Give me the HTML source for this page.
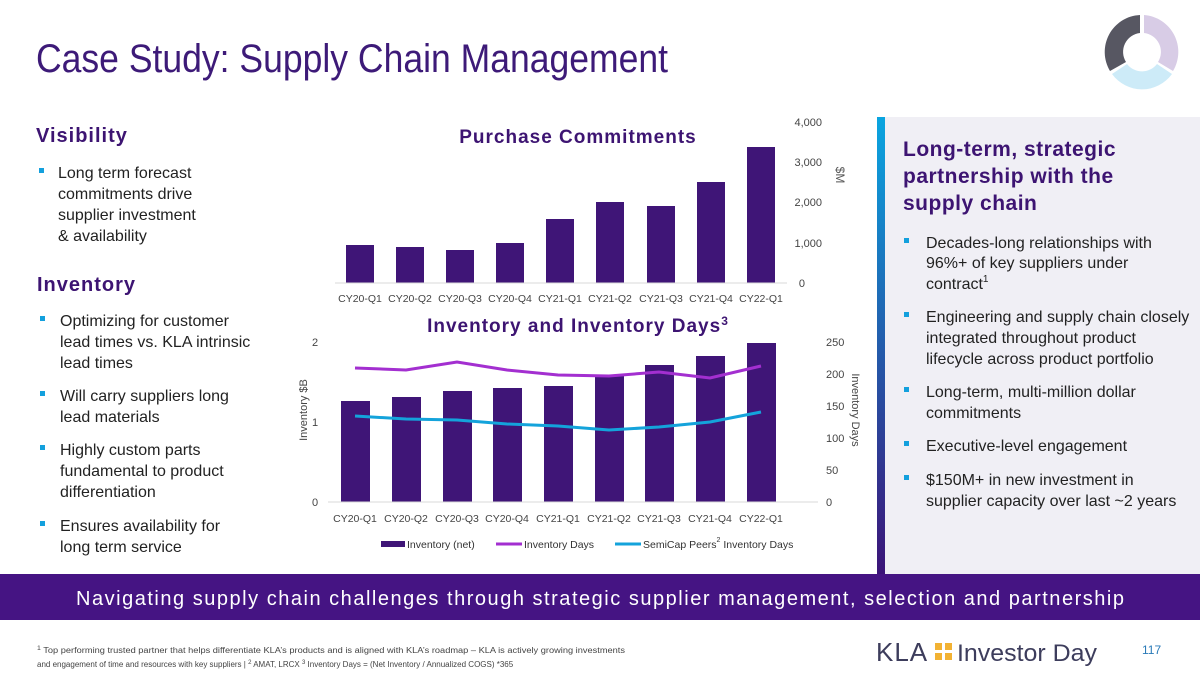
<!DOCTYPE html>
<html><head><meta charset="utf-8"><style>
body{margin:0;width:1200px;height:675px;overflow:hidden;background:#fff}
svg{display:block;font-family:"Liberation Sans",sans-serif}
</style></head><body>
<svg width="1200" height="675" viewBox="0 0 1200 675">
<defs><linearGradient id="g" x1="0" y1="0" x2="0" y2="1"><stop offset="0" stop-color="#0aa5e0"/><stop offset="1" stop-color="#3c1478"/></linearGradient></defs>
<text x="36" y="72" font-size="40" fill="#3d1a78" textLength="632" lengthAdjust="spacingAndGlyphs">Case Study: Supply Chain Management</text>
<g transform="translate(1142,52)">
<path d="M2,-37 A37,37 0 0 1 31,19 L16,10 A19,19 0 0 0 2,-19Z" fill="#d8cce6"/>
<path d="M30,22 A37,37 0 0 1 -30,22 L-15,12 A19,19 0 0 0 15,12Z" fill="#cdebf8"/>
<path d="M-32,19 A37,37 0 0 1 -2,-37 L-2,-19 A19,19 0 0 0 -16,10Z" fill="#575762"/>
</g>
<rect x="877" y="117" width="323" height="457" fill="#f0eff5"/>
<rect x="877" y="117" width="8" height="457" fill="url(#g)"/>
<g font-weight="bold" font-size="21" fill="#3d1472" letter-spacing="0.5">
<text x="903" y="156">Long-term, strategic</text><text x="903" y="183">partnership with the</text><text x="903" y="210">supply chain</text></g>
<g font-size="16" fill="#222">
<text x="926" y="248">Decades-long relationships with</text><text x="926" y="268">96%+ of key suppliers under</text><text x="926" y="289">contract<tspan font-size="10" dy="-7">1</tspan></text>
<text x="926" y="322">Engineering and supply chain closely</text><text x="926" y="343">integrated throughout product</text><text x="926" y="364">lifecycle across product portfolio</text>
<text x="926" y="397">Long-term, multi-million dollar</text><text x="926" y="418">commitments</text>
<text x="926" y="451">Executive-level engagement</text>
<text x="926" y="485">$150M+ in new investment in</text><text x="926" y="506">supplier capacity over last ~2 years</text>
</g>
<g fill="#13a0dd"><rect x="904" y="238" width="5" height="5"/><rect x="904" y="312" width="5" height="5"/><rect x="904" y="387" width="5" height="5"/><rect x="904" y="441" width="5" height="5"/><rect x="904" y="475" width="5" height="5"/>
<rect x="39" y="168" width="5" height="5"/><rect x="40" y="316" width="5" height="5"/><rect x="40" y="391" width="5" height="5"/><rect x="40" y="445" width="5" height="5"/><rect x="40" y="521" width="5" height="5"/></g>
<g font-weight="bold" font-size="20" fill="#3d1472" letter-spacing="1"><text x="36" y="142">Visibility</text><text x="37" y="291">Inventory</text></g>
<g font-size="16" fill="#222">
<text x="58" y="178">Long term forecast</text><text x="58" y="199">commitments drive</text><text x="58" y="220">supplier investment</text><text x="58" y="241">&amp; availability</text>
<text x="60" y="326">Optimizing for customer</text><text x="60" y="347">lead times vs. KLA intrinsic</text><text x="60" y="368">lead times</text>
<text x="60" y="401">Will carry suppliers long</text><text x="60" y="422">lead materials</text>
<text x="60" y="455">Highly custom parts</text><text x="60" y="476">fundamental to product</text><text x="60" y="497">differentiation</text>
<text x="60" y="531">Ensures availability for</text><text x="60" y="552">long term service</text></g>
<text x="578" y="143" text-anchor="middle" font-weight="bold" font-size="19" fill="#3d1472" letter-spacing="1">Purchase Commitments</text>
<g fill="#3f1577">
<rect x="346" y="245" width="28" height="38"/><rect x="396" y="247" width="28" height="36"/><rect x="446" y="250" width="28" height="33"/><rect x="496" y="243" width="28" height="40"/><rect x="546" y="219" width="28" height="64"/><rect x="596" y="202" width="28" height="81"/><rect x="647" y="206" width="28" height="77"/><rect x="697" y="182" width="28" height="101"/><rect x="747" y="147" width="28" height="136"/></g>
<line x1="335" y1="283" x2="787" y2="283" stroke="#d9d9d9"/>
<g font-size="11" fill="#444" text-anchor="end"><text x="822" y="126">4,000</text><text x="822" y="166">3,000</text><text x="822" y="206">2,000</text><text x="822" y="247">1,000</text><text x="805" y="287">0</text></g>
<text transform="translate(836,175) rotate(90)" font-size="12" fill="#555" text-anchor="middle">$M</text>
<g font-size="10.5" fill="#444" text-anchor="middle"><text x="360" y="302">CY20-Q1</text><text x="410" y="302">CY20-Q2</text><text x="460" y="302">CY20-Q3</text><text x="510" y="302">CY20-Q4</text><text x="560" y="302">CY21-Q1</text><text x="610" y="302">CY21-Q2</text><text x="661" y="302">CY21-Q3</text><text x="711" y="302">CY21-Q4</text><text x="761" y="302">CY22-Q1</text></g>
<text x="578" y="332" text-anchor="middle" font-weight="bold" font-size="19" fill="#3d1472" letter-spacing="1">Inventory and Inventory Days<tspan font-size="12" dy="-7">3</tspan></text>
<g fill="#3f1577">
<rect x="341" y="401" width="29" height="101"/><rect x="392" y="397" width="29" height="105"/><rect x="443" y="391" width="29" height="111"/><rect x="493" y="388" width="29" height="114"/><rect x="544" y="386" width="29" height="116"/><rect x="595" y="376" width="29" height="126"/><rect x="645" y="365" width="29" height="137"/><rect x="696" y="356" width="29" height="146"/><rect x="747" y="343" width="29" height="159"/></g>
<line x1="328" y1="502" x2="818" y2="502" stroke="#d9d9d9"/>
<polyline fill="none" stroke="#a32fd0" stroke-width="3" points="355,368 406,370 457,362 507,370 558,375 609,376 659,372 710,378 761,366"/>
<polyline fill="none" stroke="#14a3db" stroke-width="3" points="355,416 406,419 457,420 507,424 558,426 609,430 659,427 710,422 761,412"/>
<g font-size="11" fill="#444"><text x="312" y="346">2</text><text x="312" y="426">1</text><text x="312" y="506">0</text>
<text x="826" y="346">250</text><text x="826" y="378">200</text><text x="826" y="410">150</text><text x="826" y="442">100</text><text x="826" y="474">50</text><text x="826" y="506">0</text></g>
<text transform="translate(307,410) rotate(-90)" font-size="11" fill="#444" text-anchor="middle">Inventory $B</text>
<text transform="translate(852,410) rotate(90)" font-size="11" fill="#444" text-anchor="middle">Inventory Days</text>
<g font-size="10.5" fill="#444" text-anchor="middle"><text x="355" y="522">CY20-Q1</text><text x="406" y="522">CY20-Q2</text><text x="457" y="522">CY20-Q3</text><text x="507" y="522">CY20-Q4</text><text x="558" y="522">CY21-Q1</text><text x="609" y="522">CY21-Q2</text><text x="659" y="522">CY21-Q3</text><text x="710" y="522">CY21-Q4</text><text x="761" y="522">CY22-Q1</text></g>
<rect x="381" y="541" width="24" height="6" fill="#3f1577"/>
<line x1="496" y1="544" x2="522" y2="544" stroke="#a32fd0" stroke-width="3"/>
<line x1="615" y1="544" x2="641" y2="544" stroke="#14a3db" stroke-width="3"/>
<g font-size="10.5" fill="#333"><text x="407" y="548">Inventory (net)</text><text x="524" y="548">Inventory Days</text><text x="643" y="548">SemiCap Peers<tspan font-size="7" dy="-6">2</tspan><tspan dy="6"> Inventory Days</tspan></text></g>
<rect x="0" y="574" width="1200" height="46" fill="#451483"/>
<text x="76" y="605" font-size="20" fill="#fff" textLength="1048" lengthAdjust="spacing">Navigating supply chain challenges through strategic supplier management, selection and partnership</text>
<g font-size="8" fill="#444"><text x="37" y="653" textLength="588" lengthAdjust="spacingAndGlyphs"><tspan font-size="6" dy="-3">1</tspan><tspan dy="3"> Top performing trusted partner that helps differentiate KLA’s products and is aligned with KLA’s roadmap – KLA is actively growing investments</tspan></text>
<text x="37" y="667">and engagement of time and resources with key suppliers  |  <tspan font-size="6" dy="-3">2</tspan><tspan dy="3"> AMAT, LRCX </tspan><tspan font-size="6" dy="-3">3</tspan><tspan dy="3"> Inventory Days = (Net Inventory / Annualized COGS) *365</tspan></text></g>
<text x="876" y="661" font-size="26" fill="#3d3d5c" letter-spacing="1">KLA</text>
<rect x="935" y="643" width="17" height="17" fill="#f2b233"/><rect x="942" y="643" width="3" height="17" fill="#fff"/><rect x="935" y="650" width="17" height="3" fill="#fff"/>
<text x="957" y="661" font-size="24" fill="#3d3d5c" textLength="140" lengthAdjust="spacingAndGlyphs">Investor Day</text>
<text x="1142" y="654" font-size="12" fill="#2a7ab8">117</text>
</svg>
</body></html>
